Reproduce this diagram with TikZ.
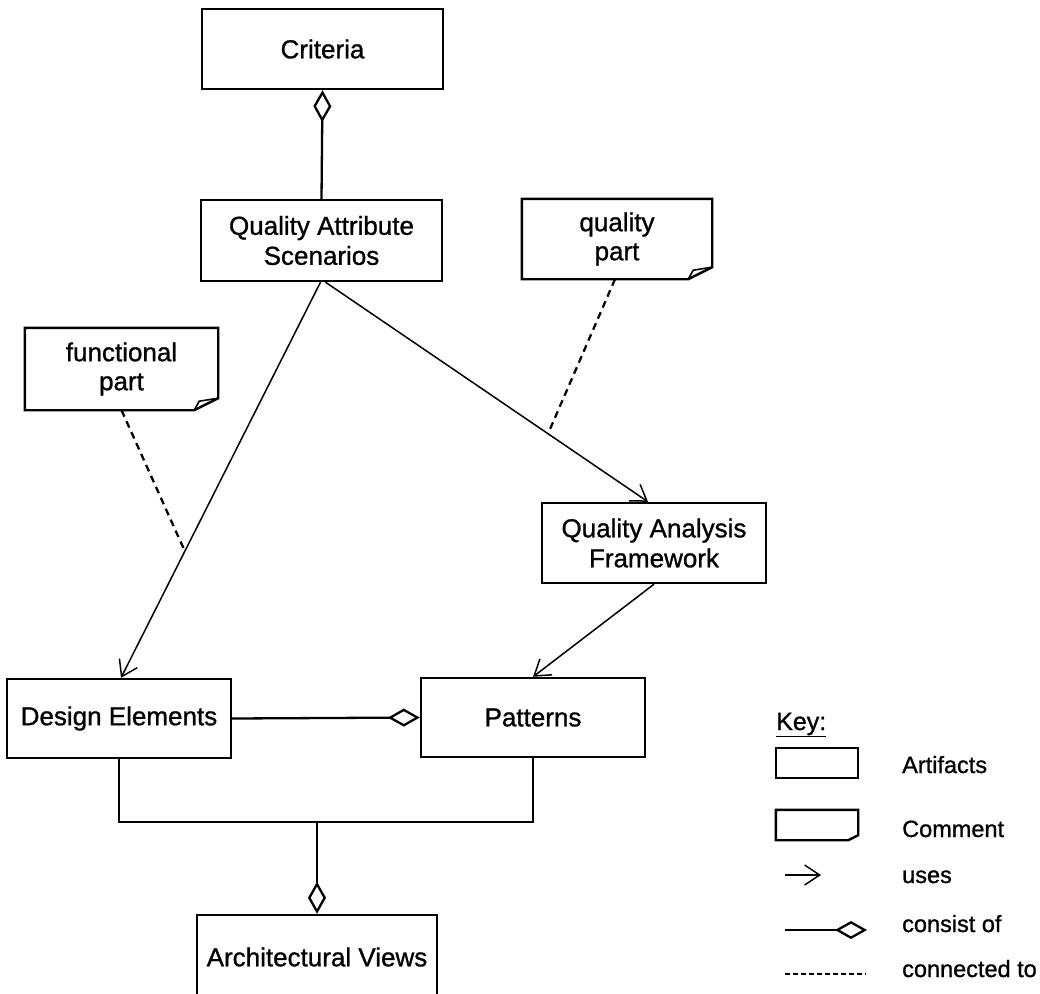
\documentclass[tikz,border=0pt]{standalone}
\usepackage{fontspec}
\setmainfont{Liberation Sans}[FakeBold=1]
\usetikzlibrary{arrows.meta,calc}
\begin{document}
\begin{tikzpicture}[x=1pt,y=-1pt,
  artifact/.style={draw, line width=2.4pt, align=center, inner sep=0pt,
    font=\fontsize{26}{30}\selectfont, minimum height=80pt},
  notetext/.style={align=center, inner sep=0pt,
    font=\fontsize{26}{29}\selectfont, minimum height=80pt},
  noteline/.style={line width=2.4pt, line join=miter},
  uses/.style={line width=1.5pt, -{Straight Barb[length=15pt,width=20pt]}},
  consist/.style={line width=2.3pt, -{Diamond[open,length=32pt,width=18pt]}},
  conn/.style={line width=2.3pt, dash pattern=on 7pt off 5pt},
  keyconn/.style={line width=2pt, dash pattern=on 5pt off 3pt},
  keytext/.style={anchor=base west, inner sep=0pt, font=\fontsize{23.5}{28}\selectfont}
]
\useasboundingbox (0,0) rectangle (1040,993);

% artifacts
\node[artifact, minimum width=241pt] (crit) at (322.5,49) {Criteria};
\node[artifact, minimum width=241pt, minimum height=81pt] (qas) at (321.5,240.5) {Quality Attribute\\Scenarios};
\node[artifact, minimum width=224pt] (qaf) at (654,543) {Quality Analysis\\Framework};
\node[artifact, minimum width=224pt, minimum height=79pt] (de) at (119,718.5) {Design Elements};
\node[artifact, minimum width=224pt, minimum height=79pt] (pat) at (533,717.5) {Patterns};
\node[artifact, minimum width=240pt, minimum height=84pt] (av) at (317,957) {Architectural Views};

% comments
\node[notetext, minimum width=193pt, minimum height=82pt] (func) at (121.5,369) {functional\\part};
\node[notetext, minimum width=190pt] (qual) at (617,239) {quality\\part};
\foreach \n in {func,qual}{
  \draw[noteline] (\n.north west) -- (\n.north east) -- ([yshift=12pt]\n.south east)
    -- ([xshift=-24pt]\n.south east) -- (\n.south west) -- cycle;
  \draw[line width=1.6pt] ([xshift=-24pt]\n.south east) -- ([xshift=-19pt,yshift=9pt]\n.south east)
    -- ([yshift=12pt]\n.south east);
}

% connectors
\draw[consist] (qas.north) -- (crit.south);
\draw[uses] ([xshift=-1pt]qas.south) -- ([xshift=2pt]de.north);
\draw[uses] ([xshift=4pt]qas.south) -- ([xshift=-6pt]qaf.north);
\draw[uses] (qaf.south) -- (pat.north);
\draw[consist] (de.east) -- (pat.west);
\coordinate (j) at (av.north |- 0,822);
\draw[line width=2.3pt] (de.south) |- (j) -| (pat.south);
\draw[consist] (j) -- (av.north);
\draw[conn] (func.south) -- ($([xshift=-1pt]qas.south)!0.68!([xshift=2pt]de.north)$);
\draw[conn] ([xshift=-2pt]qual.south) -- ($([xshift=4pt]qas.south)!0.69!([xshift=-6pt]qaf.north)$);

% key
\node[keytext, font=\fontsize{25}{30}\selectfont] (key) at (776,730) {\underline{Key:}};
\node[draw, line width=2.4pt, minimum width=82pt, minimum height=30pt, inner sep=0pt] (kart) at (817,763) {};
\node[keytext] (tart) at (902,773) {Artifacts};
\node[minimum width=82pt, minimum height=30pt, inner sep=0pt] (kcom) at (817,825) {};
\draw[noteline] (kcom.north west) -- (kcom.north east) -- ([yshift=5pt]kcom.south east)
  -- ([xshift=-10pt]kcom.south east) -- (kcom.south west) -- cycle;
\node[keytext] (tcom) at (902,837) {Comment};
\coordinate (u1) at (785,875); \coordinate (u2) at (821,875);
\draw[uses] (u1) -- (u2);
\node[keytext] (tuse) at (902,883) {uses};
\coordinate (c1) at (785,930); \coordinate (c2) at (867,930);
\draw[consist] (c1) -- (c2);
\node[keytext] (tcon) at (902,932) {consist of};
\coordinate (d1) at (785,974); \coordinate (d2) at (866,974);
\draw[keyconn] (d1) -- (d2);
\node[keytext] (tdash) at (902,977) {connected to};
\end{tikzpicture}
\end{document}
